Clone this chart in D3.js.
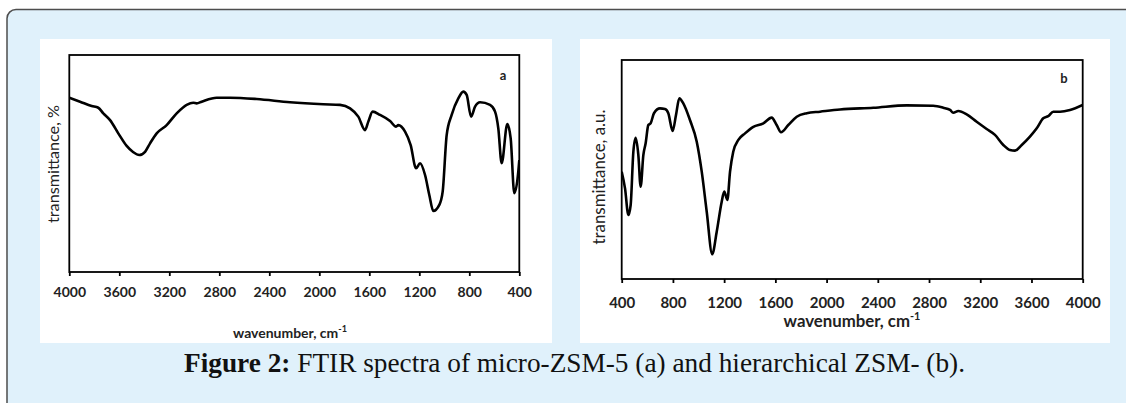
<!DOCTYPE html>
<html><head><meta charset="utf-8">
<script src="https://cdn.jsdelivr.net/npm/d3@7"></script>
<style>body{margin:0;background:#fff;} svg{display:block}</style>
</head><body>
<svg id="c" width="1126" height="403"></svg>
<script>
// ---- data ----
const ticksA = [4000,3600,3200,2800,2400,2000,1600,1200,800,400];
const ticksB = [400,800,1200,1600,2000,2400,2800,3200,3600,4000];
const wnA = [4000,3914,3821,3768,3728,3674,3608,3541,3488,3440,3394,3354,3301,3221,3141,3061,3008,2981,2941,2821,2714,2501,2234,1968,1834,1754,1688,1634,1608,1573,1514,1434,1386,1368,1314,1269,1226,1194,1154,1120,1088,1040,1013,981,941,888,848,821,786,754,714,634,594,568,541,496,469,440,408,400];
const tA = [80.3,78.5,76.5,75.7,73.1,70.0,63.9,58.1,55.2,53.9,55.4,59.3,63.9,67.7,73.1,77.0,78.0,77.7,78.5,80.3,80.3,79.7,78.2,77.3,77.0,75.4,71.6,65.4,69.3,73.9,72.4,69.6,67.0,67.7,64.7,58.5,47.8,50.1,44.7,35.5,28.1,30.9,37.0,63.1,72.4,80.0,83.1,81.6,71.6,76.2,78.2,77.0,73.9,66.2,50.1,68.2,61.6,36.3,46.2,51.6];
const wnB = [400,426,452,470,491,509,530,548,569,587,608,626,652,699,738,764,798,824,850,881,933,986,1025,1064,1107,1142,1181,1201,1225,1246,1271,1311,1363,1428,1506,1571,1610,1644,1701,1767,1845,1949,2105,2365,2626,2833,2911,2964,2989,3029,3094,3172,3250,3315,3380,3432,3471,3524,3588,3641,3692,3731,3770,3823,3901,4000];
const tB = [49.0,41.4,29.2,33.8,58.1,64.5,56.6,42.1,56.6,62.0,70.3,71.1,75.7,77.9,77.6,75.7,67.6,74.9,82.5,80.2,72.6,62.7,49.0,30.7,11.3,21.6,35.3,39.9,36.1,49.0,58.1,63.5,66.5,69.5,71.1,73.7,70.3,67.0,70.3,74.1,75.7,76.4,77.4,78.2,79.3,79.1,78.2,77.2,75.9,76.7,75.2,71.8,68.5,65.8,61.2,58.9,58.6,61.2,65.0,68.8,73.4,74.4,76.4,76.4,77.2,79.5];
const yLabelA = "transmittance, %";
const yLabelB = "transmittance, a.u.";
const xLabel = "wavenumber, cm";
const xLabelSup = "-1";
const captionBold = "Figure 2:";
const captionRest = " FTIR spectra of micro-ZSM-5 (a) and hierarchical ZSM- (b).";

const svg = d3.select("#c");
const FONT = "Lato, 'Open Sans', sans-serif";

// outer box
svg.append("rect").attr("x",7).attr("y",9.5).attr("width",1135).attr("height",430)
  .attr("rx",9).attr("fill","#e0f1fb").attr("stroke","#4d4d4d").attr("stroke-width",1.5);

function fitWidth(sel, target){
  const w = sel.node().getComputedTextLength();
  const fs = parseFloat(sel.attr("font-size"));
  sel.attr("font-size", (fs*target/w).toFixed(2));
}

function panel(cfg){
  svg.append("rect").attr("x",cfg.px0).attr("y",cfg.py0).attr("width",cfg.px1-cfg.px0).attr("height",cfg.py1-cfg.py0).attr("fill","#fff");
  const x = d3.scaleLinear().domain(cfg.xdom).range([cfg.x0,cfg.x1]);
  const y = d3.scaleLinear().domain([0,100]).range([cfg.y1,cfg.y0]);
  const g = svg.append("g");
  const clipId = "clip"+cfg.id;
  svg.append("clipPath").attr("id",clipId).append("rect")
    .attr("x",cfg.x0).attr("y",cfg.y0).attr("width",cfg.x1-cfg.x0).attr("height",cfg.y1-cfg.y0);
  const data = cfg.wn.map((w,i)=>[w,cfg.t[i]]);
  g.append("path").datum(data).attr("clip-path",`url(#${clipId})`)
    .attr("fill","none").attr("stroke","#000").attr("stroke-width",2.6).attr("stroke-linejoin","round")
    .attr("d", d3.line().x(d=>x(d[0])).y(d=>y(d[1])).curve(d3.curveMonotoneX));
  g.append("rect").attr("x",cfg.x0).attr("y",cfg.y0).attr("width",cfg.x1-cfg.x0).attr("height",cfg.y1-cfg.y0)
    .attr("fill","none").attr("stroke","#000").attr("stroke-width",1.8);
  const ax = g.append("g").attr("transform",`translate(0,${cfg.y1})`)
    .call(d3.axisBottom(x).tickValues(cfg.ticks).tickSize(4).tickPadding(cfg.pad).tickFormat(d3.format("d")));
  ax.select(".domain").remove();
  ax.selectAll(".tick line").attr("stroke","#000").attr("stroke-width",1.8);
  ax.selectAll(".tick text").attr("font-family",FONT).attr("font-weight",700)
    .attr("font-size",cfg.tickFs).attr("fill","#222");
  // x title
  const xt = g.append("text").attr("x",cfg.xtX).attr("y",cfg.xtY).attr("text-anchor","middle")
    .attr("dominant-baseline","central").attr("font-family",FONT).attr("font-weight",700)
    .attr("font-size",13).attr("fill","#222");
  xt.append("tspan").text(xLabel);
  xt.append("tspan").text(xLabelSup).attr("font-size","0.65em").attr("dy","-0.45em");
  fitWidth(xt, cfg.xtW);
  // y title
  const yt = g.append("text").attr("transform",`translate(${cfg.ytX},${cfg.ytY}) rotate(-90)`)
    .attr("text-anchor","middle").attr("dominant-baseline","central")
    .attr("font-family",FONT).attr("font-weight",400).attr("font-size",14).attr("fill","#222")
    .text(cfg.ylab);
  fitWidth(yt, cfg.ytW);
  // panel letter
  g.append("text").attr("x",cfg.letX).attr("y",cfg.letY).attr("text-anchor","middle")
    .attr("dominant-baseline","central").attr("font-family",FONT).attr("font-weight",700)
    .attr("font-size",13).attr("fill","#222").text(cfg.letter);
}

panel({id:"A", px0:40, py0:39, px1:552, py1:343, x0:69.3, x1:519.3, y0:55, y1:272,
  xdom:[4000,400], wn:wnA, t:tA, ticks:ticksA, pad:11, tickFs:14,
  xtX:290, xtY:332, xtW:114, ytX:52.7, ytY:164, ytW:118, ylab:yLabelA,
  letter:"a", letX:503, letY:75});
panel({id:"B", px0:580, py0:39, px1:1110, py1:343, x0:621.7, x1:1082.7, y0:60, y1:279,
  xdom:[400,4000], wn:wnB, t:tB, ticks:ticksB, pad:14, tickFs:15,
  xtX:852, xtY:320, xtW:137, ytX:598, ytY:177, ytW:135, ylab:yLabelB,
  letter:"b", letX:1064, letY:78});

// caption
const cap = svg.append("text").attr("x",184).attr("y",371.7)
  .attr("font-family","'Liberation Serif', 'DejaVu Serif', serif").attr("font-size",21).attr("fill","#111");
cap.append("tspan").attr("font-weight",700).text(captionBold);
cap.append("tspan").attr("font-weight",400).text(captionRest);
fitWidth(cap, 781);
</script>
</body></html>
